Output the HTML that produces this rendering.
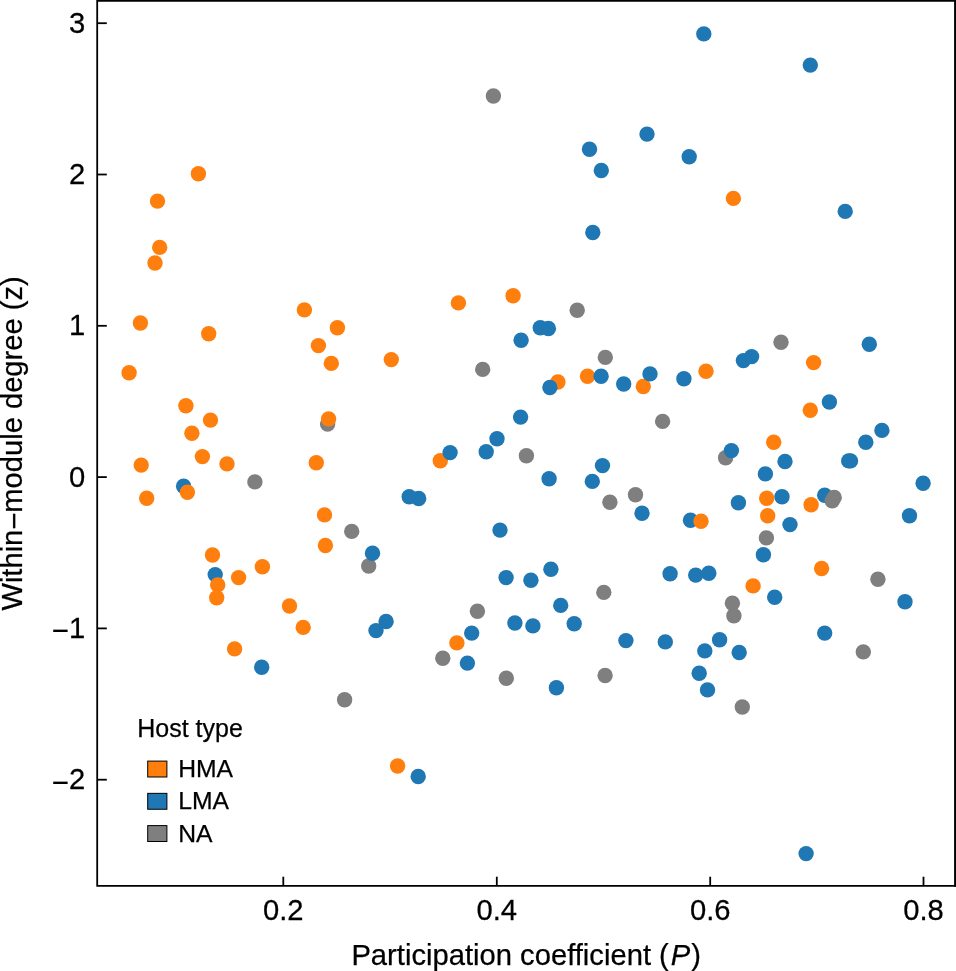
<!DOCTYPE html>
<html lang="en"><head><meta charset="utf-8"><title>Within-module degree vs participation coefficient</title>
<style>
html,body{margin:0;padding:0;background:#fff}
body{width:956px;height:971px;overflow:hidden}
svg{display:block}
svg{will-change:transform}
svg text{mix-blend-mode:multiply}
text{font-family:"Liberation Sans",Arial,Helvetica,sans-serif;fill:#000;stroke:#000;stroke-width:.25px}
.tk text{font-size:29.2px}
.tt{font-size:29.2px}
.tt.ty{font-size:29.13px}
.lg text{font-size:25px}
.lg text.ll{font-size:24.7px}
.o{fill:#ff7f0e}.b{fill:#1f77b4}.g{fill:#7f7f7f}
</style></head><body>
<svg width="956" height="971" viewBox="0 0 956 971">
<rect width="956" height="971" fill="#fff"/>
<g class="pts">
<circle class="g" cx="493.4" cy="96.0" r="7.7"/><circle class="g" cx="482.7" cy="369.4" r="7.7"/><circle class="g" cx="526.4" cy="455.7" r="7.7"/><circle class="g" cx="327.6" cy="424.1" r="7.7"/><circle class="g" cx="577.2" cy="310.2" r="7.7"/><circle class="g" cx="605.3" cy="357.4" r="7.7"/><circle class="g" cx="662.6" cy="421.4" r="7.7"/><circle class="g" cx="725.6" cy="457.8" r="7.7"/><circle class="g" cx="781.0" cy="342.3" r="7.7"/><circle class="g" cx="254.9" cy="481.9" r="7.7"/><circle class="g" cx="351.7" cy="531.4" r="7.7"/><circle class="g" cx="368.7" cy="566.0" r="7.7"/><circle class="g" cx="477.4" cy="611.2" r="7.7"/><circle class="g" cx="442.8" cy="658.2" r="7.7"/><circle class="g" cx="506.3" cy="678.3" r="7.7"/><circle class="g" cx="635.5" cy="494.7" r="7.7"/><circle class="g" cx="609.9" cy="502.3" r="7.7"/><circle class="g" cx="603.8" cy="592.4" r="7.7"/><circle class="g" cx="732.4" cy="603.2" r="7.7"/><circle class="g" cx="733.9" cy="615.7" r="7.7"/><circle class="g" cx="605.1" cy="675.5" r="7.7"/><circle class="g" cx="766.4" cy="537.9" r="7.7"/><circle class="g" cx="877.9" cy="579.3" r="7.7"/><circle class="g" cx="863.3" cy="651.9" r="7.7"/><circle class="g" cx="344.6" cy="699.7" r="7.7"/><circle class="g" cx="742.3" cy="707.0" r="7.7"/>
<circle class="b" cx="183.6" cy="486.2" r="7.7"/><circle class="b" cx="215.2" cy="574.6" r="7.7"/><circle class="b" cx="690.5" cy="520.3" r="7.7"/><circle class="b" cx="824.7" cy="495.2" r="7.7"/>
<circle class="o" cx="198.4" cy="173.8" r="7.7"/><circle class="o" cx="157.5" cy="201.1" r="7.7"/><circle class="o" cx="733.4" cy="198.4" r="7.7"/><circle class="o" cx="159.7" cy="247.4" r="7.7"/><circle class="o" cx="155.0" cy="263.0" r="7.7"/><circle class="o" cx="140.4" cy="323.0" r="7.7"/><circle class="o" cx="208.7" cy="333.8" r="7.7"/><circle class="o" cx="304.4" cy="309.9" r="7.7"/><circle class="o" cx="318.4" cy="345.6" r="7.7"/><circle class="o" cx="129.1" cy="372.7" r="7.7"/><circle class="o" cx="185.9" cy="405.8" r="7.7"/><circle class="o" cx="210.5" cy="420.1" r="7.7"/><circle class="o" cx="191.9" cy="433.2" r="7.7"/><circle class="o" cx="202.4" cy="456.6" r="7.7"/><circle class="o" cx="337.4" cy="327.7" r="7.7"/><circle class="o" cx="331.3" cy="363.4" r="7.7"/><circle class="o" cx="391.3" cy="359.6" r="7.7"/><circle class="o" cx="458.4" cy="302.9" r="7.7"/><circle class="o" cx="513.1" cy="295.8" r="7.7"/><circle class="o" cx="328.6" cy="418.9" r="7.7"/><circle class="o" cx="316.3" cy="462.8" r="7.7"/><circle class="o" cx="440.3" cy="460.7" r="7.7"/><circle class="o" cx="706.0" cy="371.2" r="7.7"/><circle class="o" cx="587.5" cy="376.2" r="7.7"/><circle class="o" cx="557.9" cy="382.0" r="7.7"/><circle class="o" cx="643.3" cy="386.5" r="7.7"/><circle class="o" cx="813.6" cy="362.6" r="7.7"/><circle class="o" cx="810.3" cy="410.3" r="7.7"/><circle class="o" cx="773.7" cy="442.2" r="7.7"/><circle class="o" cx="141.2" cy="465.1" r="7.7"/><circle class="o" cx="227.0" cy="463.9" r="7.7"/><circle class="o" cx="187.4" cy="492.2" r="7.7"/><circle class="o" cx="146.7" cy="498.3" r="7.7"/><circle class="o" cx="324.5" cy="514.9" r="7.7"/><circle class="o" cx="325.4" cy="545.5" r="7.7"/><circle class="o" cx="212.5" cy="555.0" r="7.7"/><circle class="o" cx="262.4" cy="566.8" r="7.7"/><circle class="o" cx="238.6" cy="577.6" r="7.7"/><circle class="o" cx="217.7" cy="584.9" r="7.7"/><circle class="o" cx="216.7" cy="597.7" r="7.7"/><circle class="o" cx="289.5" cy="606.0" r="7.7"/><circle class="o" cx="303.2" cy="627.4" r="7.7"/><circle class="o" cx="234.6" cy="648.9" r="7.7"/><circle class="o" cx="456.9" cy="642.9" r="7.7"/><circle class="o" cx="701.0" cy="521.3" r="7.7"/><circle class="o" cx="753.1" cy="585.9" r="7.7"/><circle class="o" cx="766.7" cy="498.3" r="7.7"/><circle class="o" cx="811.1" cy="504.8" r="7.7"/><circle class="o" cx="767.7" cy="515.8" r="7.7"/><circle class="o" cx="821.6" cy="568.5" r="7.7"/><circle class="o" cx="397.6" cy="766.0" r="7.7"/>
<circle class="b" cx="703.8" cy="33.9" r="7.7"/><circle class="b" cx="810.3" cy="65.1" r="7.7"/><circle class="b" cx="647.0" cy="134.1" r="7.7"/><circle class="b" cx="589.5" cy="149.2" r="7.7"/><circle class="b" cx="689.2" cy="156.7" r="7.7"/><circle class="b" cx="601.3" cy="170.5" r="7.7"/><circle class="b" cx="592.8" cy="232.5" r="7.7"/><circle class="b" cx="845.2" cy="211.4" r="7.7"/><circle class="b" cx="521.1" cy="340.3" r="7.7"/><circle class="b" cx="520.6" cy="417.1" r="7.7"/><circle class="b" cx="497.0" cy="438.7" r="7.7"/><circle class="b" cx="450.1" cy="452.6" r="7.7"/><circle class="b" cx="486.2" cy="451.8" r="7.7"/><circle class="b" cx="540.3" cy="327.7" r="7.7"/><circle class="b" cx="548.4" cy="328.5" r="7.7"/><circle class="b" cx="743.4" cy="360.6" r="7.7"/><circle class="b" cx="751.6" cy="356.6" r="7.7"/><circle class="b" cx="650.0" cy="373.9" r="7.7"/><circle class="b" cx="601.1" cy="376.2" r="7.7"/><circle class="b" cx="683.9" cy="378.7" r="7.7"/><circle class="b" cx="623.7" cy="384.0" r="7.7"/><circle class="b" cx="549.9" cy="387.5" r="7.7"/><circle class="b" cx="731.4" cy="450.6" r="7.7"/><circle class="b" cx="602.5" cy="465.6" r="7.7"/><circle class="b" cx="869.3" cy="344.3" r="7.7"/><circle class="b" cx="829.4" cy="402.0" r="7.7"/><circle class="b" cx="881.9" cy="430.4" r="7.7"/><circle class="b" cx="865.8" cy="442.2" r="7.7"/><circle class="b" cx="785.0" cy="461.5" r="7.7"/><circle class="b" cx="848.7" cy="460.9" r="7.7"/><circle class="b" cx="850.5" cy="460.9" r="7.7"/><circle class="b" cx="261.7" cy="667.3" r="7.7"/><circle class="b" cx="409.2" cy="496.7" r="7.7"/><circle class="b" cx="418.7" cy="498.5" r="7.7"/><circle class="b" cx="500.0" cy="530.1" r="7.7"/><circle class="b" cx="372.5" cy="553.2" r="7.7"/><circle class="b" cx="506.1" cy="577.6" r="7.7"/><circle class="b" cx="530.9" cy="580.3" r="7.7"/><circle class="b" cx="386.1" cy="621.5" r="7.7"/><circle class="b" cx="376.0" cy="630.6" r="7.7"/><circle class="b" cx="514.9" cy="623.0" r="7.7"/><circle class="b" cx="532.9" cy="625.9" r="7.7"/><circle class="b" cx="471.7" cy="633.1" r="7.7"/><circle class="b" cx="467.4" cy="663.1" r="7.7"/><circle class="b" cx="549.1" cy="478.7" r="7.7"/><circle class="b" cx="592.3" cy="481.4" r="7.7"/><circle class="b" cx="738.4" cy="502.8" r="7.7"/><circle class="b" cx="642.0" cy="513.3" r="7.7"/><circle class="b" cx="550.9" cy="569.3" r="7.7"/><circle class="b" cx="670.1" cy="573.8" r="7.7"/><circle class="b" cx="695.7" cy="575.1" r="7.7"/><circle class="b" cx="708.8" cy="573.3" r="7.7"/><circle class="b" cx="560.7" cy="605.4" r="7.7"/><circle class="b" cx="574.2" cy="623.8" r="7.7"/><circle class="b" cx="625.9" cy="640.6" r="7.7"/><circle class="b" cx="665.3" cy="641.9" r="7.7"/><circle class="b" cx="719.6" cy="639.8" r="7.7"/><circle class="b" cx="704.8" cy="650.9" r="7.7"/><circle class="b" cx="739.2" cy="652.5" r="7.7"/><circle class="b" cx="699.2" cy="673.3" r="7.7"/><circle class="b" cx="556.4" cy="687.7" r="7.7"/><circle class="b" cx="707.5" cy="689.9" r="7.7"/><circle class="b" cx="765.4" cy="473.9" r="7.7"/><circle class="b" cx="923.1" cy="483.2" r="7.7"/><circle class="b" cx="782.0" cy="496.7" r="7.7"/><circle class="b" cx="909.5" cy="515.8" r="7.7"/><circle class="b" cx="790.0" cy="524.6" r="7.7"/><circle class="b" cx="763.4" cy="554.7" r="7.7"/><circle class="b" cx="774.7" cy="597.2" r="7.7"/><circle class="b" cx="905.0" cy="601.7" r="7.7"/><circle class="b" cx="824.7" cy="633.1" r="7.7"/><circle class="b" cx="418.2" cy="776.5" r="7.7"/><circle class="b" cx="806.1" cy="853.6" r="7.7"/>
<circle class="g" cx="834.2" cy="497.5" r="7.7"/><circle class="g" cx="832.2" cy="500.8" r="7.7"/>
</g>
<g stroke="#000" stroke-width="1.8" fill="none">
<path d="M97.2 0V885.9H956M96.3 0.9H956" stroke-linecap="butt"/>
<line x1="955.05" y1="0" x2="955.05" y2="886.8" stroke-width="1.9"/>
<line x1="97.2" y1="23.2" x2="106.8" y2="23.2"/>
<line x1="97.2" y1="174.5" x2="106.8" y2="174.5"/>
<line x1="97.2" y1="325.8" x2="106.8" y2="325.8"/>
<line x1="97.2" y1="477.1" x2="106.8" y2="477.1"/>
<line x1="97.2" y1="628.4" x2="106.8" y2="628.4"/>
<line x1="97.2" y1="779.7" x2="106.8" y2="779.7"/>
<line x1="283.3" y1="885.9" x2="283.3" y2="876.6999999999999"/>
<line x1="496.8" y1="885.9" x2="496.8" y2="876.6999999999999"/>
<line x1="710.2" y1="885.9" x2="710.2" y2="876.6999999999999"/>
<line x1="923.5" y1="885.9" x2="923.5" y2="876.6999999999999"/>
</g>
<g class="tk">
<text transform="translate(85.2,32.7) scale(1,1.04)" text-anchor="end">3</text>
<text transform="translate(85.2,184.0) scale(1,1.04)" text-anchor="end">2</text>
<text transform="translate(85.2,335.3) scale(1,1.04)" text-anchor="end">1</text>
<text transform="translate(85.2,486.6) scale(1,1.04)" text-anchor="end">0</text>
<text transform="translate(85.2,637.9) scale(1,1.04)" text-anchor="end"><tspan dy="3.2">−</tspan><tspan dy="-3.2">1</tspan></text>
<text transform="translate(85.2,789.2) scale(1,1.04)" text-anchor="end"><tspan dy="3.2">−</tspan><tspan dy="-3.2">2</tspan></text>
<text transform="translate(283.3,919.5) scale(1,1.04)" text-anchor="middle">0.2</text>
<text transform="translate(496.8,919.5) scale(1,1.04)" text-anchor="middle">0.4</text>
<text transform="translate(710.2,919.5) scale(1,1.04)" text-anchor="middle">0.6</text>
<text transform="translate(923.5,919.5) scale(1,1.04)" text-anchor="middle">0.8</text>
</g>
<text class="tt" x="351.4" y="964.9">Participation coefficient (<tspan font-style="italic" dx="2.0">P</tspan><tspan dx="0.9">)</tspan></text>
<text class="tt ty" transform="translate(21.9,610.6) rotate(-90)">Within<tspan dy="2.5">−</tspan><tspan dy="-2.5">module degree (z)</tspan></text>
<g class="lg">
<text x="137.2" y="737.3">Host type</text>
<rect x="147.7" y="761.10" width="19.2" height="15.9" fill="#ff7f0e" stroke="#000" stroke-width="1"/>
<text class="ll" x="178.2" y="777.2">HMA</text>
<rect x="147.7" y="793.35" width="19.2" height="15.9" fill="#1f77b4" stroke="#000" stroke-width="1"/>
<text class="ll" x="178.2" y="809.4">LMA</text>
<rect x="147.7" y="825.60" width="19.2" height="15.9" fill="#7f7f7f" stroke="#000" stroke-width="1"/>
<text class="ll" x="178.2" y="841.9">NA</text>
</g>
</svg>
</body></html>
